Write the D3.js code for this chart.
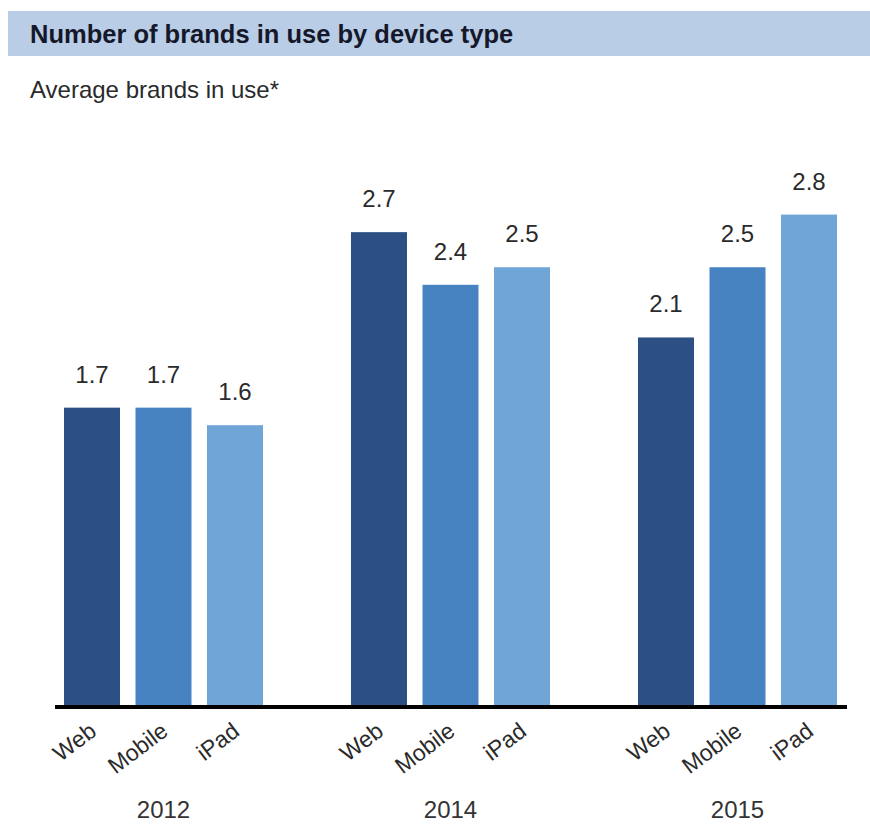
<html>
<head>
<style>
  body { margin: 0; background: #fff; }
  text { font-family: "Liberation Sans", Arial, sans-serif; }
</style>
</head>
<body>
<script src="https://d3js.org/d3.v7.min.js"></script>
<script>

var years = ['2012', '2014', '2015'],
    devices = ['Web', 'Mobile', 'iPad'],
    webValues = [1.7, 2.7, 2.1],
    mobileValues = [1.7, 2.4, 2.5],
    ipadValues = [1.6, 2.5, 2.8];

var deviceColors = ['#2c4f84', '#4683c0', '#70a5d8'],
    textColor = '#2a2a2a',
    titleBarColor = '#b9cde6';

var width = 870,
    height = 824,
    baseline = 706;

var series = [webValues, mobileValues, ipadValues];

var svg = d3.select('body').append('svg')
    .attr('width', width)
    .attr('height', height);

// title bar
svg.append('rect')
    .attr('x', 8).attr('y', 11)
    .attr('width', width - 8).attr('height', 45)
    .attr('fill', titleBarColor);

svg.append('text')
    .attr('x', 30).attr('y', 43)
    .attr('font-size', 25.5).attr('font-weight', 'bold')
    .attr('fill', '#15182a')
    .text('Number of brands in use by device type');

svg.append('text')
    .attr('x', 30).attr('y', 98)
    .attr('font-size', 24)
    .attr('fill', textColor)
    .text('Average brands in use*');

var x0 = d3.scaleBand()
    .domain(years)
    .range([20, 881])
    .paddingInner(0.3066)
    .paddingOuter(0.1533);

var x1 = d3.scaleBand()
    .domain(devices)
    .range([0, x0.bandwidth()])
    .paddingInner(0.217)
    .paddingOuter(0);

var y = d3.scaleLinear()
    .domain([0, 4])
    .range([baseline, baseline - 4 * 175.5]);

var groups = svg.selectAll('.year')
    .data(years)
  .enter().append('g')
    .attr('class', 'year')
    .attr('transform', function(d) { return 'translate(' + x0(d) + ',0)'; });

groups.each(function(year, yi) {
  var g = d3.select(this);
  var rows = devices.map(function(dev, di) {
    return { device: dev, value: series[di][yi], color: deviceColors[di] };
  });

  g.selectAll('rect')
      .data(rows)
    .enter().append('rect')
      .attr('x', function(d) { return x1(d.device); })
      .attr('y', function(d) { return y(d.value); })
      .attr('width', x1.bandwidth())
      .attr('height', function(d) { return baseline - y(d.value); })
      .attr('fill', function(d) { return d.color; });

  g.selectAll('.value')
      .data(rows)
    .enter().append('text')
      .attr('class', 'value')
      .attr('x', function(d) { return x1(d.device) + x1.bandwidth() / 2; })
      .attr('y', function(d) { return y(d.value) - 25; })
      .attr('text-anchor', 'middle')
      .attr('font-size', 24)
      .attr('fill', textColor)
      .text(function(d) { return d3.format('.1f')(d.value); });

  g.selectAll('.tick-label')
      .data(rows)
    .enter().append('text')
      .attr('class', 'tick-label')
      .attr('text-anchor', 'end')
      .attr('font-size', 23)
      .attr('fill', textColor)
      .attr('transform', function(d) {
        var cx = x1(d.device) + x1.bandwidth() / 2 + 6;
        return 'translate(' + cx + ',' + 734 + ') rotate(-37)';
      })
      .text(function(d) { return d.device; });

  g.append('text')
      .attr('x', x0.bandwidth() / 2)
      .attr('y', 818)
      .attr('text-anchor', 'middle')
      .attr('font-size', 24)
      .attr('fill', '#333')
      .text(year);
});

// baseline
svg.append('line')
    .attr('x1', 55).attr('x2', 847)
    .attr('y1', baseline + 1).attr('y2', baseline + 1)
    .attr('stroke', '#000')
    .attr('stroke-width', 4);

</script>
</body>
</html>
